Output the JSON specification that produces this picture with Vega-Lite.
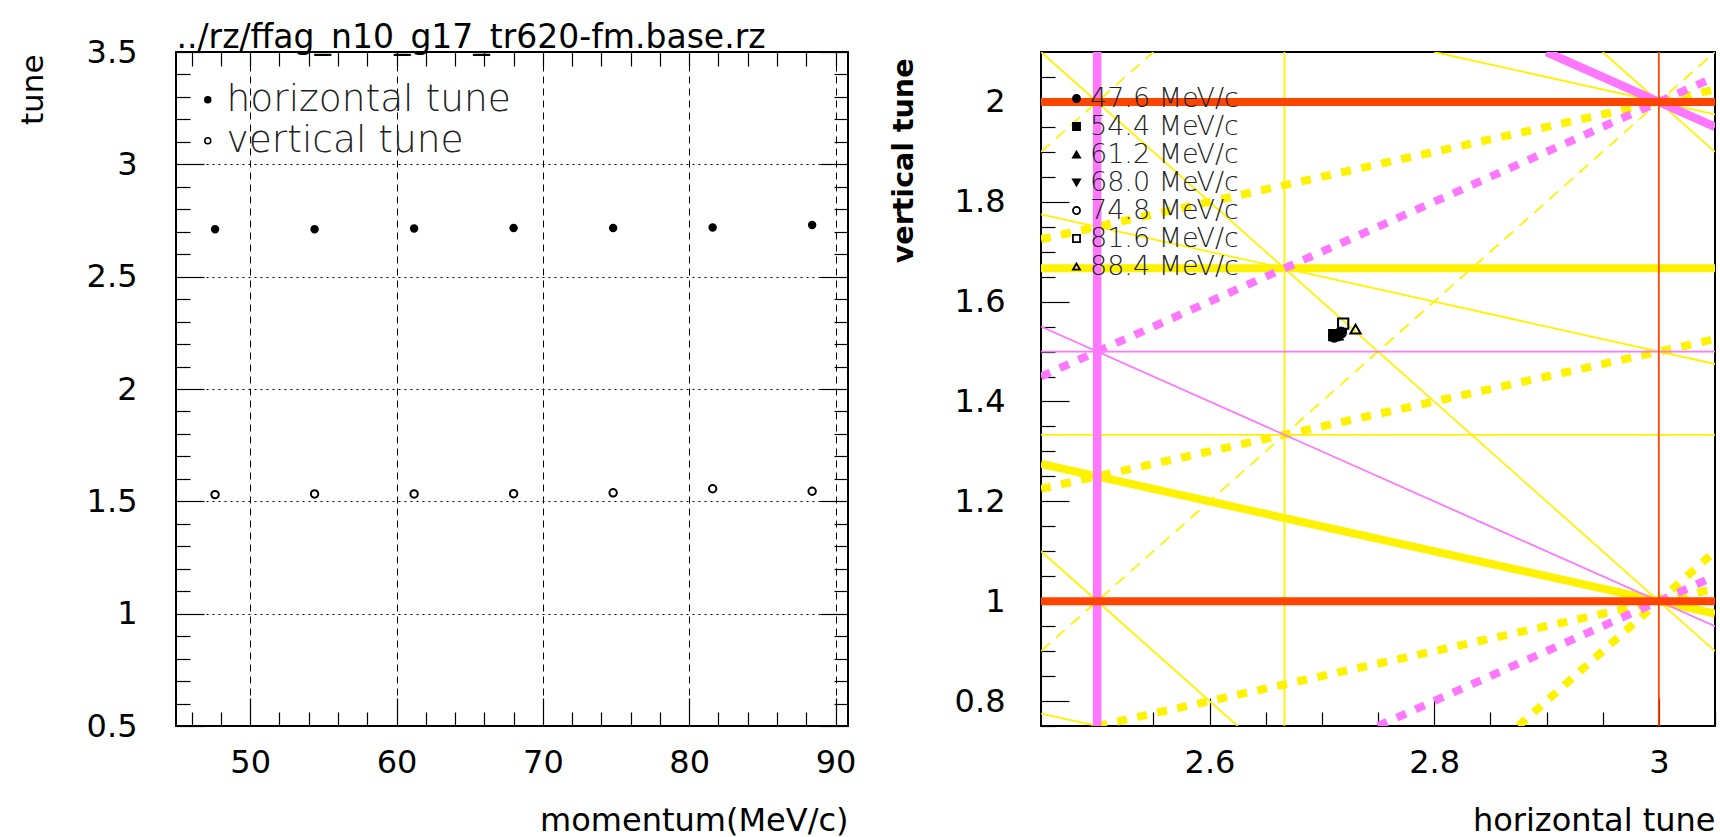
{
  "$schema": "https://vega.github.io/schema/vega-lite/v6.json",
  "background": "white",
  "padding": {"left": 16, "top": 20, "right": 2, "bottom": 2},
  "autosize": {"type": "pad"},
  "bounds": "flush",
  "spacing": 193,
  "resolve": {"scale": {"fill": "independent", "shape": "independent", "stroke": "independent"}, "legend": {"fill": "independent", "shape": "independent", "stroke": "independent"}},
  "config": {
    "view": {"stroke": "black", "strokeWidth": 2},
    "axis": {
      "domain": false, "grid": false,
      "labelFont": "DejaVu Sans", "labelFontSize": 32, "labelColor": "black",
      "titleFont": "DejaVu Sans", "titleFontSize": 32, "titleFontWeight": "normal", "titleColor": "black",
      "tickColor": "black", "tickWidth": 1.2,
      "labelOverlap": false, "labelFlush": false, "labelBound": false
    }
  },
  "datasets": {
    "tunes": [
      {"p": 47.6, "mom": "47.6 MeV/c", "nux": 2.711, "nuy": 1.530},
      {"p": 54.4, "mom": "54.4 MeV/c", "nux": 2.711, "nuy": 1.533},
      {"p": 61.2, "mom": "61.2 MeV/c", "nux": 2.714, "nuy": 1.533},
      {"p": 68.0, "mom": "68.0 MeV/c", "nux": 2.717, "nuy": 1.534},
      {"p": 74.8, "mom": "74.8 MeV/c", "nux": 2.717, "nuy": 1.538},
      {"p": 81.6, "mom": "81.6 MeV/c", "nux": 2.719, "nuy": 1.556},
      {"p": 88.4, "mom": "88.4 MeV/c", "nux": 2.730, "nuy": 1.545}
    ],
    "lines": [
      {"cls": "y3T", "x1": 2.45, "y1": 1.6667, "x2": 3.05, "y2": 1.6667},
      {"cls": "y3T", "x1": 2.45, "y1": 1.275, "x2": 3.05, "y2": 0.975},
      {"cls": "y3D", "x1": 2.45, "y1": 1.725, "x2": 3.05, "y2": 2.025},
      {"cls": "y3D", "x1": 2.45, "y1": 1.225, "x2": 3.05, "y2": 1.525},
      {"cls": "y3D", "x1": 2.5, "y1": 0.75, "x2": 3.05, "y2": 1.025},
      {"cls": "y3D", "x1": 2.875, "y1": 0.75, "x2": 3.05, "y2": 1.1},
      {"cls": "y3t", "x1": 2.6667, "y1": 0.75, "x2": 2.6667, "y2": 2.1},
      {"cls": "y3t", "x1": 2.45, "y1": 1.3333, "x2": 3.05, "y2": 1.3333},
      {"cls": "y3t", "x1": 2.45, "y1": 1.1, "x2": 2.625, "y2": 0.75},
      {"cls": "y3t", "x1": 2.45, "y1": 2.1, "x2": 3.05, "y2": 0.9},
      {"cls": "y3t", "x1": 2.95, "y1": 2.1, "x2": 3.05, "y2": 1.9},
      {"cls": "y3t", "x1": 2.45, "y1": 0.775, "x2": 2.5, "y2": 0.75},
      {"cls": "y3t", "x1": 2.45, "y1": 1.775, "x2": 3.05, "y2": 1.475},
      {"cls": "y3t", "x1": 2.8, "y1": 2.1, "x2": 3.05, "y2": 1.975},
      {"cls": "y3d", "x1": 2.45, "y1": 1.9, "x2": 2.55, "y2": 2.1},
      {"cls": "y3d", "x1": 2.45, "y1": 0.9, "x2": 3.05, "y2": 2.1},
      {"cls": "m2T", "x1": 2.5, "y1": 0.75, "x2": 2.5, "y2": 2.1},
      {"cls": "m2T", "x1": 2.9, "y1": 2.1, "x2": 3.05, "y2": 1.95},
      {"cls": "m2D", "x1": 2.45, "y1": 1.45, "x2": 3.05, "y2": 2.05},
      {"cls": "m2D", "x1": 2.75, "y1": 0.75, "x2": 3.05, "y2": 1.05},
      {"cls": "m2t", "x1": 2.45, "y1": 1.5, "x2": 3.05, "y2": 1.5},
      {"cls": "m2t", "x1": 2.45, "y1": 1.55, "x2": 3.05, "y2": 0.95},
      {"cls": "r1T", "x1": 2.45, "y1": 1.0, "x2": 3.05, "y2": 1.0},
      {"cls": "r1T", "x1": 2.45, "y1": 2.0, "x2": 3.05, "y2": 2.0},
      {"cls": "r1t", "x1": 3.0, "y1": 0.75, "x2": 3.0, "y2": 2.1}
    ]
  },
  "hconcat": [
    {
      "width": 672,
      "height": 674,
      "data": {"name": "tunes"},
      "resolve": {"axis": {"x": "independent", "y": "independent"}},
      "layer": [
        {
          "mark": {"type": "point", "shape": "circle", "filled": true, "size": 48, "stroke": "black", "strokeWidth": 1.5, "opacity": 1},
          "encoding": {
            "x": {"field": "p", "type": "quantitative", "scale": {"domain": [44.93, 90.85], "nice": false, "zero": false},
              "axis": {"orient": "bottom", "values": [46,48,50,52,54,56,58,60,62,64,66,68,70,72,74,76,78,80,82,84,86,88,90], "format": "d",
                "labelExpr": "datum.value % 10 == 0 ? datum.label : ''",
                "tickSize": {"condition": {"test": "datum.value % 10 == 0", "value": -28}, "value": -14},
                "labelPadding": 74, "labelBaseline": "alphabetic", "labelAlign": "center",
                "grid": true, "gridDash": [7, 5], "gridColor": "black", "gridWidth": 1,
                "gridOpacity": {"condition": {"test": "datum.value % 10 == 0", "value": 1}, "value": 0},
                "title": "momentum(MeV/c)", "titleAlign": "right", "titleX": 672, "titleY": 104, "titleBaseline": "alphabetic", "titleFontSize": 32}},
            "y": {"field": "nux", "type": "quantitative", "scale": {"domain": [0.5, 3.5], "nice": false, "zero": false},
              "axis": {"orient": "left", "values": [0.5,0.6,0.7,0.8,0.9,1,1.1,1.2,1.3,1.4,1.5,1.6,1.7,1.8,1.9,2,2.1,2.2,2.3,2.4,2.5,2.6,2.7,2.8,2.9,3,3.1,3.2,3.3,3.4,3.5], "format": ".1~f",
                "labelExpr": "abs(datum.value*2 - round(datum.value*2)) < 0.000001 ? datum.label : ''",
                "tickSize": {"condition": {"test": "abs(datum.value*2 - round(datum.value*2)) < 0.000001", "value": -28}, "value": -14},
                "labelPadding": 67, "labelAlign": "right", "labelBaseline": "middle",
                "grid": true, "gridDash": [2, 4], "gridColor": "black", "gridWidth": 1,
                "gridOpacity": {"condition": {"test": "abs(datum.value*2 - round(datum.value*2)) < 0.000001 && datum.value > 0.6 && datum.value < 3.4", "value": 1}, "value": 0},
                "title": "tune", "titleAngle": 270, "titleAlign": "right", "titleBaseline": "alphabetic", "titleX": -134, "titleY": 2, "titleFontSize": 31}},
            "fill": {"datum": "horizontal tune", "type": "nominal",
              "scale": {"domain": ["horizontal tune", "vertical tune"], "range": ["black", "transparent"]},
              "legend": {"orient": "none", "legendX": 13, "legendY": 29, "title": null, "padding": 0,
                "labelFont": "DejaVu Sans", "labelFontWeight": 200, "labelFontSize": 37.5, "labelLimit": 0, "labelColor": "#222222",
                "symbolType": "circle", "symbolSize": 36, "symbolStrokeColor": "black", "symbolStrokeWidth": 1.5, "labelOffset": 0, "rowPadding": 2,
                "encode": {"symbols": {"update": {"stroke": {"value": "black"}, "strokeWidth": {"value": 1.5}}}}}}
          }
        },
        {
          "mark": {"type": "point", "shape": "circle", "filled": true, "size": 55, "stroke": "black", "strokeWidth": 2, "opacity": 1},
          "encoding": {
            "x": {"field": "p", "type": "quantitative", "scale": {"domain": [44.93, 90.85], "nice": false, "zero": false},
              "axis": {"orient": "top", "values": [46,48,50,52,54,56,58,60,62,64,66,68,70,72,74,76,78,80,82,84,86,88,90], "tickSize": -14, "labels": false, "grid": false,
                "title": "../rz/ffag_n10_g17_tr620-fm.base.rz", "titleAlign": "left", "titleAnchor": "start", "titleX": 0, "titleY": -5, "titleBaseline": "alphabetic", "titleFontSize": 33}},
            "y": {"field": "nuy", "type": "quantitative", "scale": {"domain": [0.5, 3.5], "nice": false, "zero": false},
              "axis": {"orient": "right", "values": [0.5,0.6,0.7,0.8,0.9,1,1.1,1.2,1.3,1.4,1.5,1.6,1.7,1.8,1.9,2,2.1,2.2,2.3,2.4,2.5,2.6,2.7,2.8,2.9,3,3.1,3.2,3.3,3.4,3.5],
                "tickSize": {"condition": {"test": "abs(datum.value*2 - round(datum.value*2)) < 0.000001", "value": -28}, "value": -14},
                "labels": false, "title": null, "grid": false}},
            "fill": {"datum": "vertical tune", "type": "nominal"}
          }
        }
      ]
    },
    {
      "width": 674,
      "height": 674,
      "resolve": {"axis": {"x": "independent", "y": "independent"}},
      "layer": [
        {
          "data": {"name": "lines"},
          "transform": [{"filter": "datum.cls == 'y3T'"}],
          "mark": {"type": "rule", "color": "#FFF200", "strokeWidth": 8, "clip": true, "strokeCap": "butt"},
          "encoding": {
            "x": {"field": "x1", "type": "quantitative", "scale": {"domain": [2.45, 3.05], "nice": false, "zero": false}, "axis": null},
            "y": {"field": "y1", "type": "quantitative", "scale": {"domain": [0.75, 2.1], "nice": false, "zero": false}, "axis": null},
            "x2": {"field": "x2"}, "y2": {"field": "y2"}
          }
        },
        {
          "data": {"name": "lines"},
          "transform": [{"filter": "datum.cls == 'y3D'"}],
          "mark": {"type": "rule", "color": "#FFF200", "strokeWidth": 8, "strokeDash": [10, 10.5], "clip": true, "strokeCap": "butt"},
          "encoding": {
            "x": {"field": "x1", "type": "quantitative", "scale": {"domain": [2.45, 3.05], "nice": false, "zero": false}, "axis": null},
            "y": {"field": "y1", "type": "quantitative", "scale": {"domain": [0.75, 2.1], "nice": false, "zero": false}, "axis": null},
            "x2": {"field": "x2"}, "y2": {"field": "y2"}
          }
        },
        {
          "data": {"name": "lines"},
          "transform": [{"filter": "datum.cls == 'y3t'"}],
          "mark": {"type": "rule", "color": "#FFF200", "strokeWidth": 1.8, "clip": true},
          "encoding": {
            "x": {"field": "x1", "type": "quantitative", "scale": {"domain": [2.45, 3.05], "nice": false, "zero": false}, "axis": null},
            "y": {"field": "y1", "type": "quantitative", "scale": {"domain": [0.75, 2.1], "nice": false, "zero": false}, "axis": null},
            "x2": {"field": "x2"}, "y2": {"field": "y2"}
          }
        },
        {
          "data": {"name": "lines"},
          "transform": [{"filter": "datum.cls == 'y3d'"}],
          "mark": {"type": "rule", "color": "#FFF200", "strokeWidth": 1.8, "strokeDash": [12, 8], "clip": true},
          "encoding": {
            "x": {"field": "x1", "type": "quantitative", "scale": {"domain": [2.45, 3.05], "nice": false, "zero": false}, "axis": null},
            "y": {"field": "y1", "type": "quantitative", "scale": {"domain": [0.75, 2.1], "nice": false, "zero": false}, "axis": null},
            "x2": {"field": "x2"}, "y2": {"field": "y2"}
          }
        },
        {
          "data": {"name": "lines"},
          "transform": [{"filter": "datum.cls == 'm2T'"}],
          "mark": {"type": "rule", "color": "#FF77FF", "strokeWidth": 8.5, "clip": true, "strokeCap": "butt"},
          "encoding": {
            "x": {"field": "x1", "type": "quantitative", "scale": {"domain": [2.45, 3.05], "nice": false, "zero": false}, "axis": null},
            "y": {"field": "y1", "type": "quantitative", "scale": {"domain": [0.75, 2.1], "nice": false, "zero": false}, "axis": null},
            "x2": {"field": "x2"}, "y2": {"field": "y2"}
          }
        },
        {
          "data": {"name": "lines"},
          "transform": [{"filter": "datum.cls == 'm2D'"}],
          "mark": {"type": "rule", "color": "#FF77FF", "strokeWidth": 8, "strokeDash": [10, 10.5], "clip": true, "strokeCap": "butt"},
          "encoding": {
            "x": {"field": "x1", "type": "quantitative", "scale": {"domain": [2.45, 3.05], "nice": false, "zero": false}, "axis": null},
            "y": {"field": "y1", "type": "quantitative", "scale": {"domain": [0.75, 2.1], "nice": false, "zero": false}, "axis": null},
            "x2": {"field": "x2"}, "y2": {"field": "y2"}
          }
        },
        {
          "data": {"name": "lines"},
          "transform": [{"filter": "datum.cls == 'm2t'"}],
          "mark": {"type": "rule", "color": "#FF77FF", "strokeWidth": 1.8, "clip": true},
          "encoding": {
            "x": {"field": "x1", "type": "quantitative", "scale": {"domain": [2.45, 3.05], "nice": false, "zero": false}, "axis": null},
            "y": {"field": "y1", "type": "quantitative", "scale": {"domain": [0.75, 2.1], "nice": false, "zero": false}, "axis": null},
            "x2": {"field": "x2"}, "y2": {"field": "y2"}
          }
        },
        {
          "data": {"name": "lines"},
          "transform": [{"filter": "datum.cls == 'r1T'"}],
          "mark": {"type": "rule", "color": "#FF4400", "strokeWidth": 8, "clip": true, "strokeCap": "butt"},
          "encoding": {
            "x": {"field": "x1", "type": "quantitative", "scale": {"domain": [2.45, 3.05], "nice": false, "zero": false}, "axis": null},
            "y": {"field": "y1", "type": "quantitative", "scale": {"domain": [0.75, 2.1], "nice": false, "zero": false}, "axis": null},
            "x2": {"field": "x2"}, "y2": {"field": "y2"}
          }
        },
        {
          "data": {"name": "lines"},
          "transform": [{"filter": "datum.cls == 'r1t'"}],
          "mark": {"type": "rule", "color": "#FF4400", "strokeWidth": 1.8, "clip": true},
          "encoding": {
            "x": {"field": "x1", "type": "quantitative", "scale": {"domain": [2.45, 3.05], "nice": false, "zero": false}, "axis": null},
            "y": {"field": "y1", "type": "quantitative", "scale": {"domain": [0.75, 2.1], "nice": false, "zero": false}, "axis": null},
            "x2": {"field": "x2"}, "y2": {"field": "y2"}
          }
        },
        {
          "data": {"name": "tunes"},
          "mark": {"type": "point", "filled": true, "size": 105, "strokeWidth": 2, "opacity": 1},
          "encoding": {
            "x": {"field": "nux", "type": "quantitative", "scale": {"domain": [2.45, 3.05], "nice": false, "zero": false},
              "axis": {"orient": "bottom", "zindex": 0, "values": [2.5,2.55,2.6,2.65,2.7,2.75,2.8,2.85,2.9,2.95,3,3.05], "format": ".2~f",
                "labelExpr": "abs(datum.value*5 - round(datum.value*5)) < 0.000001 ? datum.label : ''",
                "tickSize": {"condition": {"test": "abs(datum.value*5 - round(datum.value*5)) < 0.000001", "value": -28}, "value": -14},
                "labelPadding": 74, "labelBaseline": "alphabetic", "labelAlign": "center",
                "title": "horizontal tune", "titleAlign": "right", "titleX": 674, "titleY": 104, "titleBaseline": "alphabetic", "titleFontSize": 32}},
            "y": {"field": "nuy", "type": "quantitative", "scale": {"domain": [0.75, 2.1], "nice": false, "zero": false},
              "axis": {"orient": "left", "zindex": 0, "values": [0.75,0.8,0.85,0.9,0.95,1,1.05,1.1,1.15,1.2,1.25,1.3,1.35,1.4,1.45,1.5,1.55,1.6,1.65,1.7,1.75,1.8,1.85,1.9,1.95,2,2.05], "format": ".2~f",
                "labelExpr": "abs(datum.value*5 - round(datum.value*5)) < 0.000001 ? datum.label : ''",
                "tickSize": {"condition": {"test": "abs(datum.value*5 - round(datum.value*5)) < 0.000001", "value": -28}, "value": -14},
                "labelPadding": 64, "labelAlign": "right", "labelBaseline": "middle",
                "title": "vertical tune", "titleAngle": 270, "titleAlign": "right", "titleBaseline": "alphabetic", "titleX": -129, "titleY": 6, "titleFontSize": 28.5, "titleFontWeight": "bold"}},
            "shape": {"field": "mom", "type": "nominal",
              "scale": {"domain": ["47.6 MeV/c", "54.4 MeV/c", "61.2 MeV/c", "68.0 MeV/c", "74.8 MeV/c", "81.6 MeV/c", "88.4 MeV/c"],
                "range": ["circle", "square", "triangle-up", "triangle-down", "circle", "square", "triangle-up"]},
              "legend": {"orient": "none", "legendX": 22, "legendY": 33, "title": null, "padding": 0,
                "labelFont": "DejaVu Sans", "labelFontWeight": 200, "labelFontSize": 27, "labelLimit": 0, "labelColor": "#222222",
                "symbolSize": 50, "symbolStrokeColor": "black", "symbolStrokeWidth": 1.8, "labelOffset": 0, "rowPadding": 0}},
            "fill": {"field": "mom", "type": "nominal",
              "scale": {"domain": ["47.6 MeV/c", "54.4 MeV/c", "61.2 MeV/c", "68.0 MeV/c", "74.8 MeV/c", "81.6 MeV/c", "88.4 MeV/c"],
                "range": ["black", "black", "black", "black", "transparent", "transparent", "transparent"]},
              "legend": {"orient": "none", "legendX": 22, "legendY": 33, "title": null, "padding": 0,
                "labelFont": "DejaVu Sans", "labelFontWeight": 200, "labelFontSize": 27, "labelLimit": 0, "labelColor": "#222222",
                "symbolSize": 50, "symbolStrokeColor": "black", "symbolStrokeWidth": 1.8, "labelOffset": 0, "rowPadding": 0}},
            "stroke": {"field": "mom", "type": "nominal",
              "scale": {"domain": ["47.6 MeV/c", "54.4 MeV/c", "61.2 MeV/c", "68.0 MeV/c", "74.8 MeV/c", "81.6 MeV/c", "88.4 MeV/c"],
                "range": ["black", "black", "black", "black", "black", "black", "black"]},
              "legend": {"orient": "none", "legendX": 22, "legendY": 33, "title": null, "padding": 0,
                "labelFont": "DejaVu Sans", "labelFontWeight": 200, "labelFontSize": 27, "labelLimit": 0, "labelColor": "#222222",
                "symbolSize": 50, "symbolStrokeColor": "black", "symbolStrokeWidth": 1.8, "labelOffset": 0, "rowPadding": 0}}
          }
        }
      ]
    }
  ]
}
